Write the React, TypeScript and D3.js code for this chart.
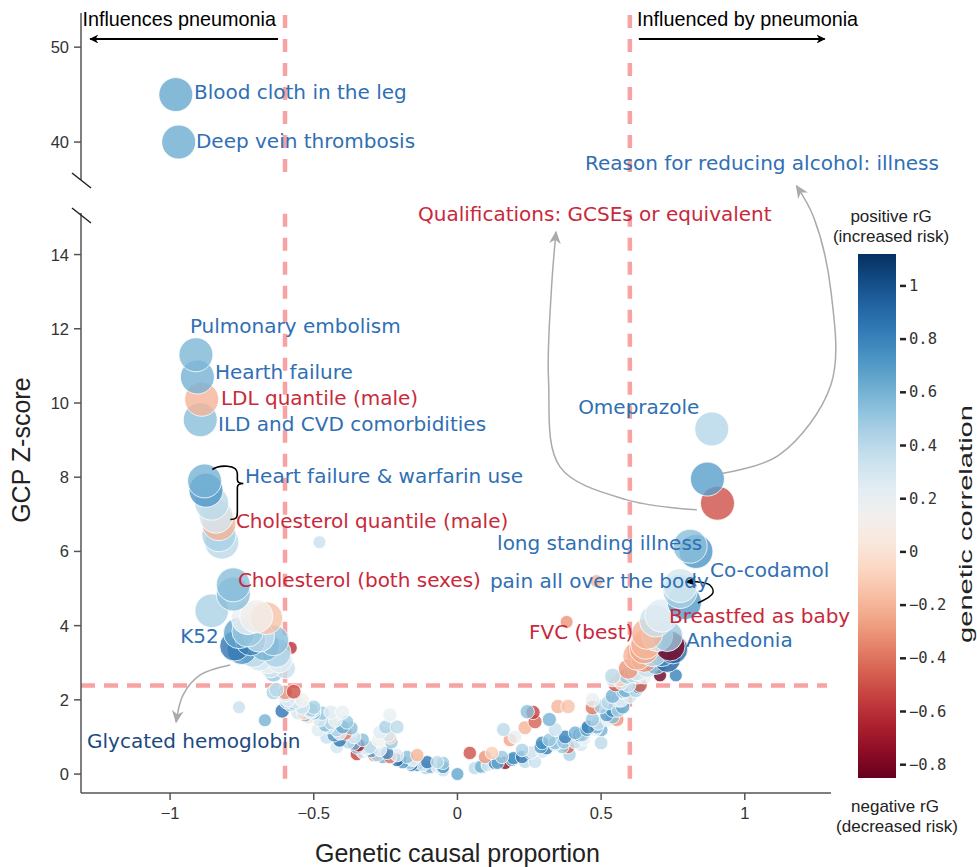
import React from 'react'
import * as d3 from 'd3'

const W = 977, H = 867

// points above the axis break: [GCP, Z, rG]
const upperPoints: [number, number, number][] = [
  [-0.98, 45, 0.62],
  [-0.97, 40, 0.6],
]

// strong left-hand hits (pulmonary embolism ... cholesterol)
const leftTop: [number, number, number][] = [
  [-0.91, 11.3, 0.58], [-0.905, 10.7, 0.6], [-0.89, 10.1, -0.2], [-0.895, 9.55, 0.55],
  [-0.88, 7.9, 0.6], [-0.875, 7.65, 0.72], [-0.855, 7.3, 0.4], [-0.84, 6.95, 0.3],
  [-0.83, 6.75, -0.2], [-0.83, 6.45, 0.45], [-0.82, 6.25, 0.4],
]

// cholesterol (both sexes) / K52 cluster
const leftCluster: [number, number, number][] = [
  [-0.78, 5.1, 0.55], [-0.78, 4.85, 0.55], [-0.855, 4.4, 0.45], [-0.73, 4.2, 0.2],
  [-0.665, 4.2, -0.15], [-0.7, 4.25, 0.12], [-0.775, 3.45, 0.85], [-0.76, 3.8, 0.65],
  [-0.73, 3.85, 0.5], [-0.69, 3.7, 0.35], [-0.64, 3.6, 0.55], [-0.71, 3.27, 0.4],
  [-0.69, 3.15, 0.3], [-0.66, 3.05, 0.2], [-0.75, 3.35, 0.72], [-0.63, 3.27, 0.45],
  [-0.62, 3.08, 0.25], [-0.65, 2.88, 0.3], [-0.64, 2.72, 0.5],
  [-0.67, 3.45, 0.6], [-0.72, 3.6, 0.8], [-0.6, 2.85, 0.35],
]

// traits with a small marker despite their Z-score
const minorHits: [number, number, number][] = [
  [-0.48, 6.25, 0.35], [-0.58, 3.4, -0.6], [-0.76, 1.8, 0.35], [-0.67, 1.45, 0.6],
  [0.484, 5.2, -0.2], [0.38, 4.1, -0.3], [0.705, 2.66, -0.85], [0.76, 2.66, 0.8],
]

const leftArm: [number, number, number][] = [
  [-0.63, 2.27, 0.4], [-0.57, 2.22, -0.5], [-0.6, 2.14, 0.3], [-0.61, 1.7, 0.85],
  [-0.58, 1.87, 0.4], [-0.54, 1.78, 0.5], [-0.555, 1.65, 0.3], [-0.51, 1.67, 0.2],
  [-0.52, 1.54, 0.0], [-0.5, 1.65, 0.6], [-0.48, 1.46, 0.3], [-0.44, 1.67, 0.25],
  [-0.4, 1.67, 0.2], [-0.385, 1.4, 0.5], [-0.45, 1.27, 0.3], [-0.42, 1.19, 0.45],
  [-0.37, 1.24, 0.55], [-0.39, 1.1, -0.4], [-0.41, 0.91, 0.85], [-0.38, 0.86, 0.4],
  [-0.345, 0.78, -0.7], [-0.35, 0.54, -0.55], [-0.315, 0.7, 0.3], [-0.29, 0.51, -0.3],
  [-0.26, 0.46, 0.6], [-0.235, 1.59, 0.2], [-0.25, 1.27, 0.45], [-0.21, 1.27, 0.4],
  [-0.27, 1.13, 0.25], [-0.24, 1.05, 0.3], [-0.23, 0.86, 0.5], [-0.275, 0.91, 0.15],
  [-0.235, 0.99, -0.1], [-0.235, 0.46, -0.4], [-0.21, 0.38, 0.9], [-0.19, 0.32, 0.7],
  [-0.165, 0.3, 0.4], [-0.14, 0.24, 0.75], [-0.12, 0.24, 0.3], [-0.095, 0.19, 0.6],
  [-0.07, 0.19, 0.2], [-0.05, 0.3, 0.5], [-0.14, 0.51, -0.2], [-0.33, 0.59, 0.2],
  [-0.42, 0.73, 0.3], [-0.455, 0.99, 0.35], [-0.485, 1.19, 0.25], [-0.6, 2.2, -0.3],
  [-0.595, 1.95, 0.4], [-0.57, 1.92, 0.55], [-0.54, 1.81, 0.3], [-0.535, 1.65, -0.05],
  [-0.51, 1.73, 0.5], [-0.64, 2.2, 0.45], [-0.5, 1.72, 0.35], [-0.44, 1.38, 0.4],
  [-0.41, 1.1, 0.2], [-0.35, 0.72, 0.55], [-0.28, 0.51, 0.45], [-0.235, 0.43, 0.3],
  [-0.16, 0.25, 0.85], [-0.11, 0.16, 0.45], [-0.05, 0.1, 0.35], [-0.3, 0.62, 0.7],
  [-0.32, 0.68, 0.25], [-0.36, 0.82, 0.6], [-0.43, 1.05, 0.7], [-0.46, 1.32, 0.55],
  [-0.53, 1.6, 0.65], [-0.56, 1.95, 0.25], [0, 0, 0.65],
  [-0.59, 2.0, 0.25], [-0.54, 2.0, 0.15], [-0.5, 1.8, 0.45], [-0.47, 1.64, 0.5],
  [-0.425, 1.45, 0.2], [-0.4, 1.27, 0.65], [-0.36, 1.0, 0.3], [-0.33, 0.92, 0.55],
  [-0.305, 0.73, 0.4], [-0.27, 0.65, 0.2], [-0.245, 0.57, 0.75], [-0.21, 0.51, 0.25],
  [-0.175, 0.46, 0.55], [-0.155, 0.38, 0.2], [-0.105, 0.32, 0.85], [-0.07, 0.32, 0.4],
  [-0.05, 0.19, 0.75],
]

const rightArm: [number, number, number][] = [
  [0.043, 0.57, -0.5], [0.06, 0.16, 0.4], [0.085, 0.19, 0.7], [0.105, 0.24, 0.3],
  [0.13, 0.3, 0.8], [0.096, 0.46, -0.3], [0.12, 0.57, -0.1], [0.166, 0.3, -0.75],
  [0.155, 0.46, 0.5], [0.19, 0.38, 0.6], [0.225, 0.46, 0.85], [0.235, 0.33, 0.4],
  [0.27, 0.33, 0.35], [0.16, 1.2, 0.4], [0.183, 0.92, -0.25], [0.2, 1.0, 0.2],
  [0.235, 1.25, -0.2], [0.243, 1.68, 0.55], [0.263, 1.66, -0.55], [0.27, 1.41, -0.45],
  [0.29, 0.73, 0.7], [0.295, 0.6, 0.3], [0.32, 0.92, 0.5], [0.32, 1.47, 0.6],
  [0.34, 1.2, 0.35], [0.35, 1.82, -0.2], [0.385, 1.82, -0.15], [0.385, 0.73, -0.45],
  [0.39, 0.52, 0.45], [0.365, 0.73, 0.5], [0.41, 1.11, 0.6], [0.43, 0.79, 0.3],
  [0.45, 1.2, 0.7], [0.47, 1.47, 0.5], [0.48, 1.2, 0.2], [0.5, 0.84, 0.4],
  [0.47, 2.0, 0.2], [0.47, 1.79, -0.4], [0.5, 1.82, 0.45], [0.52, 1.6, 0.7],
  [0.525, 1.93, 0.4], [0.54, 2.1, 0.6], [0.555, 1.47, -0.3], [0.56, 2.0, 0.35],
  [0.577, 2.23, 0.5], [0.54, 2.55, 0.2], [0.55, 2.42, -0.5], [0.57, 2.47, 0.3],
  [0.595, 2.83, -0.3], [0.61, 2.69, 0.4], [0.63, 2.36, 0.7], [0.625, 2.64, 0.25],
  [0.08, 0.2, 0.55], [0.14, 0.3, 0.65], [0.195, 0.43, 0.75], [0.255, 0.57, 0.6],
  [0.31, 0.7, 0.8], [0.37, 0.86, 0.5], [0.425, 1.05, 0.75], [0.485, 1.27, 0.6],
  [0.54, 1.54, 0.55], [0.575, 1.81, 0.65], [0.6, 2.1, 0.3], [0.44, 0.95, 0.2],
  [0.34, 0.8, 0.35],
  [0.225, 0.65, 0.45], [0.26, 0.6, 0.2], [0.295, 0.84, 0.75], [0.34, 0.84, 0.55],
  [0.375, 1.0, 0.8], [0.41, 0.86, 0.35], [0.435, 1.05, 0.45], [0.455, 1.27, 0.8],
  [0.49, 1.37, 0.35], [0.5, 1.19, 0.6], [0.525, 1.46, 0.2], [0.54, 1.72, 0.75],
  [0.56, 1.72, 0.45], [0.57, 2.0, 0.25], [0.585, 2.26, 0.6], [0.62, 2.26, 0.45],
  [0.635, 2.4, -0.45], [0.595, 2.4, 0.35],
]

const rightCluster: [number, number, number][] = [
  [0.81, 6.14, 0.55], [0.83, 6.0, 0.72], [0.775, 5.08, 0.3], [0.775, 4.92, 0.45],
  [0.79, 4.62, 0.7], [0.69, 4.13, 0.35], [0.71, 4.27, 0.25], [0.66, 3.78, -0.2],
  [0.695, 3.72, 0.3], [0.73, 3.72, 0.5], [0.74, 3.45, -0.8], [0.75, 3.37, 0.9],
  [0.71, 3.29, 0.75], [0.68, 3.29, 0.4], [0.65, 3.37, -0.25], [0.625, 3.18, -0.2],
  [0.73, 3.1, 0.95], [0.69, 3.02, 0.6], [0.66, 2.9, 0.35],
  [0.625, 2.77, 0.3], [0.59, 2.64, 0.5], [0.567, 2.55, -0.1],
  [0.54, 2.64, 0.4], [0.65, 2.64, 0.2], [0.65, 3.1, -0.3], [0.655, 3.5, -0.2],
  [0.885, 9.3, 0.42], [0.87, 7.95, 0.68], [0.905, 7.3, -0.5],
]

const xTicks = [-1, -0.5, 0, 0.5, 1]
const yTicksLow = [0, 2, 4, 6, 8, 10, 12, 14]
const yTicksHigh = [40, 50]
const cbTicks = [1, 0.8, 0.6, 0.4, 0.2, 0, -0.2, -0.4, -0.6, -0.8]

const BLUE = '#2f6fb4', RED = '#c8293b', NAVY = '#1c4a80'
const LABEL_FONT = "'DejaVu Sans', Verdana, sans-serif"
const SANS = "'Liberation Sans', Arial, sans-serif"

// annotation text, anchored in data space (gcp, z) of the lower or upper panel
const annotations = [
  { text: 'Blood cloth in the leg', gx: -0.917, gz: 45.3, up: true, c: BLUE },
  { text: 'Deep vein thrombosis', gx: -0.91, gz: 40.1, up: true, c: BLUE },
  { text: 'Reason for reducing alcohol: illness', gx: 0.444, gz: 37.8, up: true, c: BLUE },
  { text: 'Qualifications: GCSEs or equivalent', gx: -0.137, gz: 15.09, up: false, c: RED },
  { text: 'Pulmonary embolism', gx: -0.931, gz: 12.08, up: false, c: BLUE },
  { text: 'Hearth failure', gx: -0.844, gz: 10.84, up: false, c: BLUE },
  { text: 'LDL quantile (male)', gx: -0.823, gz: 10.13, up: false, c: RED },
  { text: 'ILD and CVD comorbidities', gx: -0.833, gz: 9.43, up: false, c: BLUE },
  { text: 'Heart failure & warfarin use', gx: -0.739, gz: 8.03, up: false, c: BLUE },
  { text: 'Cholesterol quantile (male)', gx: -0.771, gz: 6.82, up: false, c: RED },
  { text: 'Cholesterol (both sexes)', gx: -0.764, gz: 5.23, up: false, c: RED },
  { text: 'K52', gx: -0.965, gz: 3.72, up: false, c: BLUE },
  { text: 'Glycated hemoglobin', gx: -1.289, gz: 0.89, up: false, c: NAVY },
  { text: 'Omeprazole', gx: 0.42, gz: 9.89, up: false, c: BLUE },
  { text: 'long standing illness', gx: 0.138, gz: 6.23, up: false, c: BLUE },
  { text: 'Co-codamol', gx: 0.879, gz: 5.5, up: false, c: BLUE },
  { text: 'pain all over the body', gx: 0.113, gz: 5.2, up: false, c: BLUE },
  { text: 'Breastfed as baby', gx: 0.736, gz: 4.27, up: false, c: RED },
  { text: 'FVC (best)', gx: 0.249, gz: 3.83, up: false, c: RED },
  { text: 'Anhedonia', gx: 0.795, gz: 3.62, up: false, c: BLUE },
]

// curved pointer arrows, data-space waypoints on the lower panel
const grayArrows: [number, number][][] = [
  [[0.92, 8.1], [1.12, 8.6], [1.3, 10.5], [1.3, 13.0], [1.24, 15.0], [1.18, 15.85]],
  [[0.833, 7.12], [0.59, 7.39], [0.357, 8.28], [0.317, 10.62], [0.327, 13.05], [0.343, 14.61]],
  [[-0.791, 2.94], [-0.895, 2.67], [-0.955, 2.13], [-0.979, 1.4]],
]
const blackArrow: [number, number][] = [[0.837, 4.61], [0.889, 4.88], [0.879, 5.09], [0.833, 5.18], [0.795, 5.18]]

export default function App() {
  const x = d3.scaleLinear().domain([-1.31, 1.3]).range([81, 831])
  const yLow = d3.scaleLinear().domain([-0.51, 15.12]).range([793, 213])
  const yHigh = d3.scaleLinear().domain([36, 53.6]).range([180, 13])
  const color = d3.scaleSequential(d3.interpolateRdBu).domain([-0.85, 1.12])
  const radius = d3.scaleLinear().domain([0, 2.6, 3.2, 4.5]).range([6.5, 7.5, 14.5, 17]).clamp(true)
  const cbY = d3.scaleLinear().domain([-0.85, 1.12]).range([778, 254])
  const fmt = d3.format('~g')

  const lowPts = [
    ...leftArm.map(d => ({ d, r: radius(d[1]) })),
    ...rightArm.map(d => ({ d, r: radius(d[1]) })),
    ...minorHits.map(d => ({ d, r: radius(0) })),
    ...leftCluster.map(d => ({ d, r: radius(d[1]) })),
    ...rightCluster.map(d => ({ d, r: radius(d[1]) })),
    ...leftTop.map(d => ({ d, r: radius(d[1]) })),
  ].sort((a, b) => a.r - b.r || a.d[1] - b.d[1])

  const curve = d3.line<[number, number]>().x(d => x(d[0])).y(d => yLow(d[1])).curve(d3.curveCatmullRom)

  const thr = 2.39
  const axisColor = '#555'
  const dashColor = '#f7a3a3'
  const [x0, x1] = x.range()

  // brace tip
  const bx = x(-0.745), by = yLow(7.83)
  const gradStops = d3.range(0, 1.0001, 0.05)

  return (
    <svg width={W} height={H} style={{ position: 'absolute', left: 0, top: 0, background: '#fff' }}>
      <defs>
        <linearGradient id="cb" x1="0" y1="0" x2="0" y2="1">
          {gradStops.map(t => (
            <stop key={t} offset={t} stopColor={color(1.12 - t * 1.97)} />
          ))}
        </linearGradient>
        <marker id="ah-black" viewBox="0 0 10 10" refX="9" refY="5" markerWidth="9" markerHeight="9" orient="auto-start-reverse" markerUnits="userSpaceOnUse">
          <path d="M0,0 L10,5 L0,10 L3,5 z" fill="#000" />
        </marker>
        <marker id="ah-small" viewBox="0 0 10 10" refX="9" refY="5" markerWidth="12" markerHeight="12" orient="auto" markerUnits="userSpaceOnUse">
          <path d="M0,1 L10,5 L0,9 L4,5 z" fill="#000" />
        </marker>
        <marker id="ah-gray" viewBox="0 0 10 10" refX="9" refY="5" markerWidth="13" markerHeight="13" orient="auto" markerUnits="userSpaceOnUse">
          <path d="M0,0.5 L10,5 L0,9.5 L3,5 z" fill="#aaa" />
        </marker>
      </defs>

      {/* threshold lines */}
      <line x1={x0} x2={x1 - 4} y1={yLow(thr)} y2={yLow(thr)} stroke={dashColor} strokeWidth={4.5} strokeDasharray="14 9" />
      {[-0.6, 0.6].map(v => (
        <g key={v}>
          <line x1={x(v)} x2={x(v)} y1={yHigh(53.4)} y2={yHigh(36.4)} stroke={dashColor} strokeWidth={4.5} strokeDasharray="13 11" />
          <line x1={x(v)} x2={x(v)} y1={yLow(15.1)} y2={yLow(-0.4)} stroke={dashColor} strokeWidth={4.5} strokeDasharray="13 11" />
        </g>
      ))}

      {/* points */}
      {lowPts.map((p, i) => (
        <circle key={i} cx={x(p.d[0])} cy={yLow(p.d[1])} r={p.r} fill={color(p.d[2])}
          fillOpacity={0.8} stroke="#fff" strokeWidth={0.8} />
      ))}
      {upperPoints.map((d, i) => (
        <circle key={'u' + i} cx={x(d[0])} cy={yHigh(d[1])} r={17} fill={color(d[2])}
          fillOpacity={0.85} stroke="#fff" strokeWidth={0.8} />
      ))}

      {/* annotation arrows */}
      {grayArrows.map((pts, i) => (
        <path key={i} d={curve(pts) || ''} fill="none" stroke="#aaa" strokeWidth={1.5} markerEnd="url(#ah-gray)" />
      ))}
      <path d={curve(blackArrow) || ''} fill="none" stroke="#000" strokeWidth={1.5} markerEnd="url(#ah-small)" />
      <path
        d={`M${bx - 31},${by - 14} C${bx - 24},${by - 19} ${bx - 6},${by - 19} ${bx - 6},${by - 10} L${bx - 6},${by - 4} Q${bx - 6},${by} ${bx},${by} Q${bx - 6},${by} ${bx - 6},${by + 4} L${bx - 6},${by + 29} C${bx - 6},${by + 35} ${bx - 8},${by + 36} ${bx - 13},${by + 36}`}
        fill="none" stroke="#000" strokeWidth={1.6} />

      {/* direction arrows */}
      <line x1={x(-0.6) - 7} x2={x(-1.278)} y1={yHigh(50.86)} y2={yHigh(50.86)} stroke="#000" strokeWidth={2} markerEnd="url(#ah-black)" />
      <line x1={x(0.6) + 9} x2={x(1.278)} y1={yHigh(50.86)} y2={yHigh(50.86)} stroke="#000" strokeWidth={2} markerEnd="url(#ah-black)" />
      <text x={x(-1.305)} y={yHigh(52.97)} dominantBaseline="central" fontFamily={SANS} fontSize={19.8} fill="#000">Influences pneumonia</text>
      <text x={x(0.625)} y={yHigh(52.97)} dominantBaseline="central" fontFamily={SANS} fontSize={19.8} fill="#000">Influenced by pneumonia</text>

      {/* labels */}
      {annotations.map(a => (
        <text key={a.text} x={x(a.gx)} y={a.up ? yHigh(a.gz) : yLow(a.gz)} dominantBaseline="central"
          fontFamily={LABEL_FONT} fontSize={20} fill={a.c}>{a.text}</text>
      ))}

      {/* y axis, upper and lower segments */}
      <line x1={x0} x2={x0} y1={13} y2={yHigh(36)} stroke={axisColor} strokeWidth={1.5} />
      <line x1={x0} x2={x0} y1={yLow(15.12)} y2={yLow(-0.51)} stroke={axisColor} strokeWidth={1.5} />
      <line x1={x0 - 9} x2={x0 + 10} y1={yHigh(36) - 7} y2={yHigh(36) + 8} stroke="#222" strokeWidth={1.5} />
      <line x1={x0 - 9} x2={x0 + 10} y1={yLow(15.12) - 5} y2={yLow(15.12) + 10} stroke="#222" strokeWidth={1.5} />
      {yTicksHigh.map(t => (
        <g key={t} transform={`translate(${x0},${yHigh(t)})`}>
          <line x1={-7} x2={0} stroke={axisColor} strokeWidth={1.5} />
          <text x={-12} dominantBaseline="central" textAnchor="end" fontFamily={SANS} fontSize={16.5} fill="#333">{fmt(t)}</text>
        </g>
      ))}
      {yTicksLow.map(t => (
        <g key={t} transform={`translate(${x0},${yLow(t)})`}>
          <line x1={-7} x2={0} stroke={axisColor} strokeWidth={1.5} />
          <text x={-12} dominantBaseline="central" textAnchor="end" fontFamily={SANS} fontSize={16.5} fill="#333">{fmt(t)}</text>
        </g>
      ))}

      {/* x axis */}
      <line x1={x0} x2={x1} y1={793} y2={793} stroke={axisColor} strokeWidth={1.5} />
      {xTicks.map(t => (
        <g key={t} transform={`translate(${x(t)},793)`}>
          <line y1={0} y2={7} stroke={axisColor} strokeWidth={1.5} />
          <text y={26} textAnchor="middle" fontFamily={SANS} fontSize={16.5} fill="#333">{fmt(t)}</text>
        </g>
      ))}
      <text x={x(0)} y={862} textAnchor="middle" fontFamily={SANS} fontSize={25} fill="#222">Genetic causal proportion</text>
      <text transform={`translate(30,${yLow(8.73)}) rotate(-90)`} textAnchor="middle" fontFamily={SANS} fontSize={25} fill="#222">GCP Z-score</text>

      {/* colour bar */}
      <rect x={858} y={254} width={38} height={524} fill="url(#cb)" />
      {cbTicks.map(t => (
        <g key={t} transform={`translate(896,${cbY(t)})`}>
          <line x1={4} x2={10} stroke="#222" strokeWidth={2.5} />
          <text x={13} dominantBaseline="central" fontFamily="'DejaVu Sans Mono', monospace" fontSize={15.5} fill="#333">{fmt(t)}</text>
        </g>
      ))}
      <text x={891} y={222} textAnchor="middle" fontFamily={SANS} fontSize={17} fill="#222">positive rG</text>
      <text x={891} y={242} textAnchor="middle" fontFamily={SANS} fontSize={17} fill="#222">(increased risk)</text>
      <text x={895} y={812} textAnchor="middle" fontFamily={SANS} fontSize={17} fill="#222">negative rG</text>
      <text x={897} y={832} textAnchor="middle" fontFamily={SANS} fontSize={17} fill="#222">(decreased risk)</text>
      <text transform={`translate(972,524) rotate(-90)`} textAnchor="middle" fontFamily={SANS} fontSize={18.5}
        textLength={238} lengthAdjust="spacingAndGlyphs" fill="#222">genetic correlation</text>
    </svg>
  )
}
